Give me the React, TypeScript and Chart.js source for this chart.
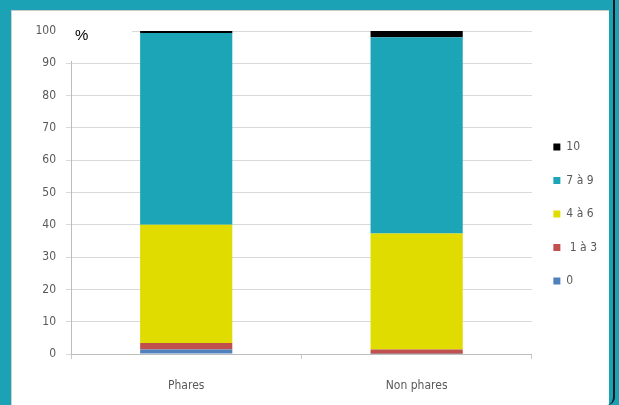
import React, { useEffect, useRef } from "react";
import { Chart, registerables } from "chart.js";

Chart.register(...registerables);

const categories = ["Phares", "Non phares"];
const seriesLabels = ["0", " 1 à 3", "4 à 6", "7 à 9", "10"];
const seriesColors = ["#4f81bd", "#c0504d", "#e0dc00", "#1ca5b6", "#000000"];
const values0 = [1.4, 0.1];
const values1to3 = [2.0, 1.3];
const values4to6 = [36.6, 35.9];
const values7to9 = [59.4, 60.8];
const values10 = [0.6, 1.9];
const yMin = 0;
const yMax = 100;
const yStep = 10;
const unitLabel = "%";

const FONT = "'Liberation Sans Narrow', 'DejaVu Sans Condensed', 'Roboto', sans-serif";

const percentPlugin = {
  id: "percentLabel",
  afterDraw(chart: any) {
    const ctx = chart.ctx;
    const left = chart.chartArea.left;
    const top = chart.chartArea.top;
    ctx.save();
    ctx.fillStyle = "#ffffff";
    ctx.fillRect(left - 13, top - 16, 74, 46);
    ctx.fillStyle = "#000000";
    ctx.font = "15px 'Liberation Sans', Arial, sans-serif";
    ctx.textBaseline = "middle";
    ctx.textAlign = "left";
    ctx.fillText(unitLabel, left + 4, top + 5);
    ctx.restore();
  },
};

export default function App() {
  const ref = useRef<HTMLCanvasElement | null>(null);

  useEffect(() => {
    if (!ref.current) return;
    const allValues = [values0, values1to3, values4to6, values7to9, values10];
    const chart = new Chart(ref.current, {
      type: "bar",
      data: {
        labels: categories,
        datasets: seriesLabels.map((label, i) => ({
          label,
          data: allValues[i],
          backgroundColor: seriesColors[i],
          borderWidth: 0,
          barPercentage: 0.4,
          categoryPercentage: 1,
        })),
      },
      options: {
        responsive: false,
        animation: false,
        layout: { padding: { left: 0, top: 31, right: 12, bottom: 0 } },
        plugins: {
          tooltip: { enabled: false },
          legend: {
            position: "right",
            reverse: true,
            align: "start",
            title: { display: true, text: "", padding: { top: 0, bottom: 74 }, font: { size: 12 } },
            labels: {
              boxWidth: 7,
              boxHeight: 7,
              padding: 21.5,
              color: "#595959",
              font: { family: FONT, size: 12 },
            },
          },
        },
        scales: {
          x: {
            stacked: true,
            afterFit: (s: any) => { s.height = 51; },
            grid: {
              display: true,
              drawOnChartArea: false,
              offset: true,
              tickLength: 5,
              color: "#c8c8c8",
            },
            border: { color: "#bdbdbd" },
            ticks: {
              color: "#595959",
              padding: 20,
              font: { family: FONT, size: 12 },
            },
          },
          y: {
            stacked: true,
            min: yMin,
            max: yMax,
            afterFit: (s: any) => { s.width = 71; },
            grid: { color: "#d9d9d9", tickLength: 5 },
            border: { color: "#bdbdbd" },
            ticks: {
              stepSize: yStep,
              color: "#595959",
              padding: 10,
              font: { family: FONT, size: 12 },
            },
          },
        },
      },
      plugins: [percentPlugin],
    });
    return () => chart.destroy();
  }, []);

  return (
    <div style={{ position: "fixed", left: 0, top: 0, width: 619, height: 405, background: "#1ba3b5", overflow: "hidden" }}>
      <div style={{ position: "absolute", left: 11, top: 10, width: 598, height: 420, background: "#ffffff", borderTop: "1px solid #c9c9c9", borderLeft: "1px solid #d0d0d0", boxSizing: "border-box" }} />
      <div style={{ position: "absolute", left: 613, top: 0, width: 2, height: 392, background: "#0a1a1e" }} />
      <div style={{ position: "absolute", left: 607, top: 385, width: 6, height: 20, borderRight: "2px solid #0a1a1e", borderBottomRightRadius: 10 }} />
      <canvas ref={ref} width={619} height={405} style={{ position: "absolute", left: 0, top: 0 }} />
    </div>
  );
}
